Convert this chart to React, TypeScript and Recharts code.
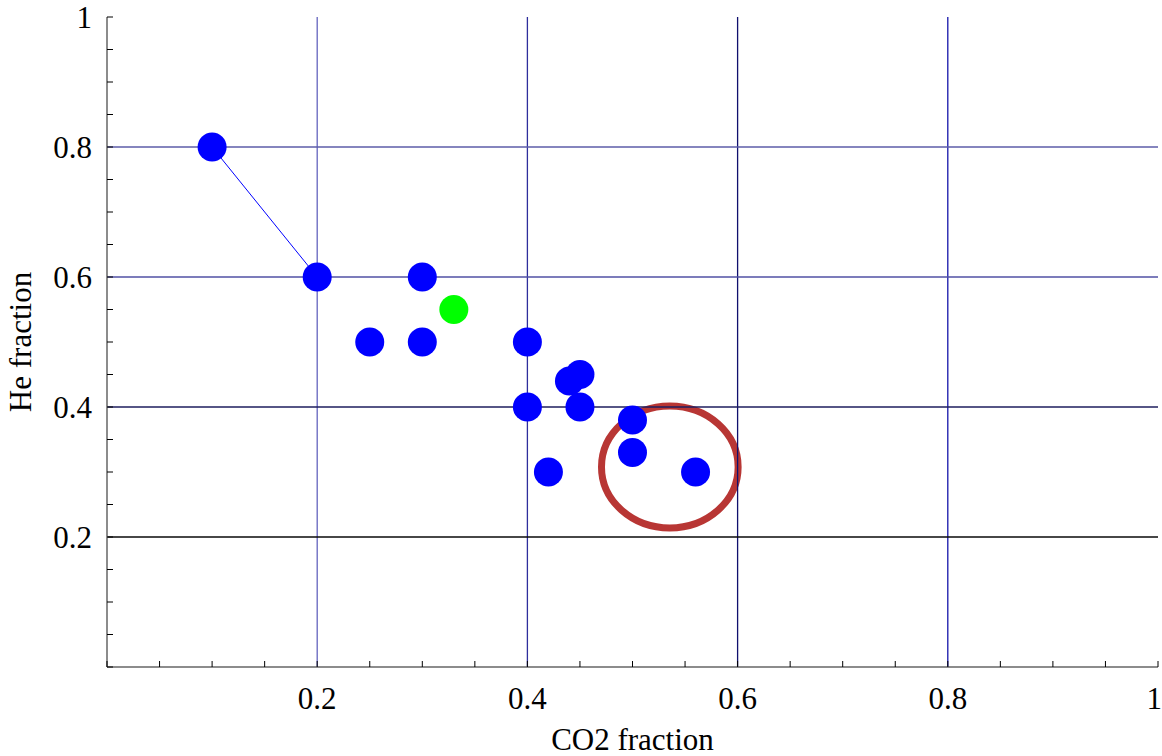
import React from "react";
import {
  ScatterChart,
  Scatter,
  XAxis,
  YAxis,
  ReferenceLine,
  ReferenceArea,
} from "recharts";

// blue points joined by a thin line
const linkedPoints = [
  { co2: 0.1, he: 0.8 },
  { co2: 0.2, he: 0.6 },
];

const bluePoints = [
  { co2: 0.3, he: 0.6 },
  { co2: 0.25, he: 0.5 },
  { co2: 0.3, he: 0.5 },
  { co2: 0.4, he: 0.5 },
  { co2: 0.4, he: 0.4 },
  { co2: 0.44, he: 0.44 },
  { co2: 0.45, he: 0.45 },
  { co2: 0.45, he: 0.4 },
  { co2: 0.5, he: 0.38 },
  { co2: 0.5, he: 0.33 },
  { co2: 0.42, he: 0.3 },
  { co2: 0.56, he: 0.3 },
];

const greenPoints = [{ co2: 0.33, he: 0.55 }];

// minor ticks every 0.05, labels on the major ones
const minorTicks = [
  0, 0.05, 0.1, 0.15, 0.2, 0.25, 0.3, 0.35, 0.4, 0.45, 0.5, 0.55, 0.6, 0.65,
  0.7, 0.75, 0.8, 0.85, 0.9, 0.95, 1,
];
const labelTicks = [0.2, 0.4, 0.6, 0.8, 1];

const gridX = [0.2, 0.4, 0.6, 0.8];
const gridXColors = ["#6464be", "#2e2e9c", "#10106e", "#1414aa"];
const gridY = [0.8, 0.6, 0.4, 0.2];
const gridYColors = ["#5c5ca8", "#5050a4", "#1e1e5e", "#0a0a0a"];

// red ring around the last group
const ringBox = { x1: 0.4705, x2: 0.6005, y1: 0.214, y2: 0.4015 };

const FONT = "'Liberation Serif', 'Times New Roman', serif";
const FRAME = "#666";

function dot(color: string) {
  return (p: any) => <circle cx={p.cx} cy={p.cy} r={14.5} fill={color} />;
}

function tickFor(side: "bottom" | "top" | "left" | "right") {
  return (p: any) => {
    const v = p.payload.value;
    const { x, y } = p;
    const len = 6;
    let line;
    if (side === "bottom") line = <line x1={x} y1={y} x2={x} y2={y - len} stroke="#000" />;
    else if (side === "top") line = <line x1={x} y1={y} x2={x} y2={y + len} stroke="#000" />;
    else if (side === "left") line = <line x1={x} y1={y} x2={x + len} y2={y} stroke="#000" />;
    else line = <line x1={x} y1={y} x2={x - len} y2={y} stroke="#000" />;
    let label = null;
    if (labelTicks.includes(v) && side === "bottom") {
      const last = v === 1;
      label = (
        <text
          x={last ? x + 4 : x}
          y={y + 42}
          textAnchor={last ? "end" : "middle"}
          fontSize={31}
          fontFamily={FONT}
          fill="#000"
        >
          {String(v)}
        </text>
      );
    } else if (labelTicks.includes(v) && side === "left") {
      label = (
        <text x={x - 15} y={y + 11} textAnchor="end" fontSize={31} fontFamily={FONT} fill="#000">
          {String(v)}
        </text>
      );
    }
    return (
      <g>
        {line}
        {label}
      </g>
    );
  };
}

export default function App() {
  return (
    <div style={{ position: "absolute", left: 0, top: 0 }}>
      <ScatterChart
        width={1162}
        height={756}
        margin={{ top: 17, right: 4, bottom: 0, left: 0 }}
        style={{ background: "#fff" }}
      >
        <XAxis
          type="number"
          dataKey="co2"
          domain={[0, 1]}
          ticks={minorTicks}
          interval={0}
          height={89}
          tickSize={0}
          tickMargin={0}
          tickLine={false}
          axisLine={{ stroke: FRAME, strokeWidth: 1.5 }}
          tick={tickFor("bottom")}
          label={{
            value: "CO2 fraction",
            position: "insideBottom",
            offset: 6,
            fontSize: 31,
            fontFamily: FONT,
            fill: "#000",
          }}
        />
        <XAxis
          xAxisId="top"
          orientation="top"
          type="number"
          dataKey="co2"
          domain={[0, 1]}
          ticks={minorTicks}
          interval={0}
          height={0}
          tickSize={0}
          tickMargin={0}
          tickLine={false}
          axisLine={{ stroke: FRAME, strokeWidth: 1.5 }}
          tick={tickFor("top")}
        />
        <YAxis
          type="number"
          dataKey="he"
          domain={[0, 1]}
          ticks={minorTicks}
          interval={0}
          width={107}
          tickSize={0}
          tickMargin={0}
          tickLine={false}
          axisLine={{ stroke: FRAME, strokeWidth: 1.5 }}
          tick={tickFor("left")}
          label={{
            value: "He fraction",
            angle: -90,
            position: "insideLeft",
            offset: 20,
            fontSize: 31,
            fontFamily: FONT,
            fill: "#000",
            style: { textAnchor: "middle" },
          }}
        />
        <YAxis
          yAxisId="right"
          orientation="right"
          type="number"
          dataKey="he"
          domain={[0, 1]}
          ticks={minorTicks}
          interval={0}
          width={0}
          tickSize={0}
          tickMargin={0}
          tickLine={false}
          axisLine={{ stroke: FRAME, strokeWidth: 1.5 }}
          tick={tickFor("right")}
        />

        {gridX.map((v, i) => (
          <ReferenceLine key={"gx" + v} x={v} stroke={gridXColors[i]} strokeWidth={1.3} />
        ))}
        {gridY.map((v, i) => (
          <ReferenceLine key={"gy" + v} y={v} stroke={gridYColors[i]} strokeWidth={1.3} />
        ))}

        <ReferenceArea
          x1={ringBox.x1}
          x2={ringBox.x2}
          y1={ringBox.y1}
          y2={ringBox.y2}
          shape={(p: any) => (
            <ellipse
              cx={p.x + p.width / 2}
              cy={p.y + p.height / 2}
              rx={Math.abs(p.width) / 2}
              ry={Math.abs(p.height) / 2}
              fill="none"
              stroke="#b83634"
              strokeWidth={7}
            />
          )}
        />

        <Scatter
          data={linkedPoints}
          line={{ stroke: "#0000ff", strokeWidth: 1 }}
          shape={dot("#0000ff")}
          isAnimationActive={false}
        />
        <Scatter data={bluePoints} shape={dot("#0000ff")} isAnimationActive={false} />
        <Scatter data={greenPoints} shape={dot("#00ff00")} isAnimationActive={false} />
      </ScatterChart>
    </div>
  );
}
